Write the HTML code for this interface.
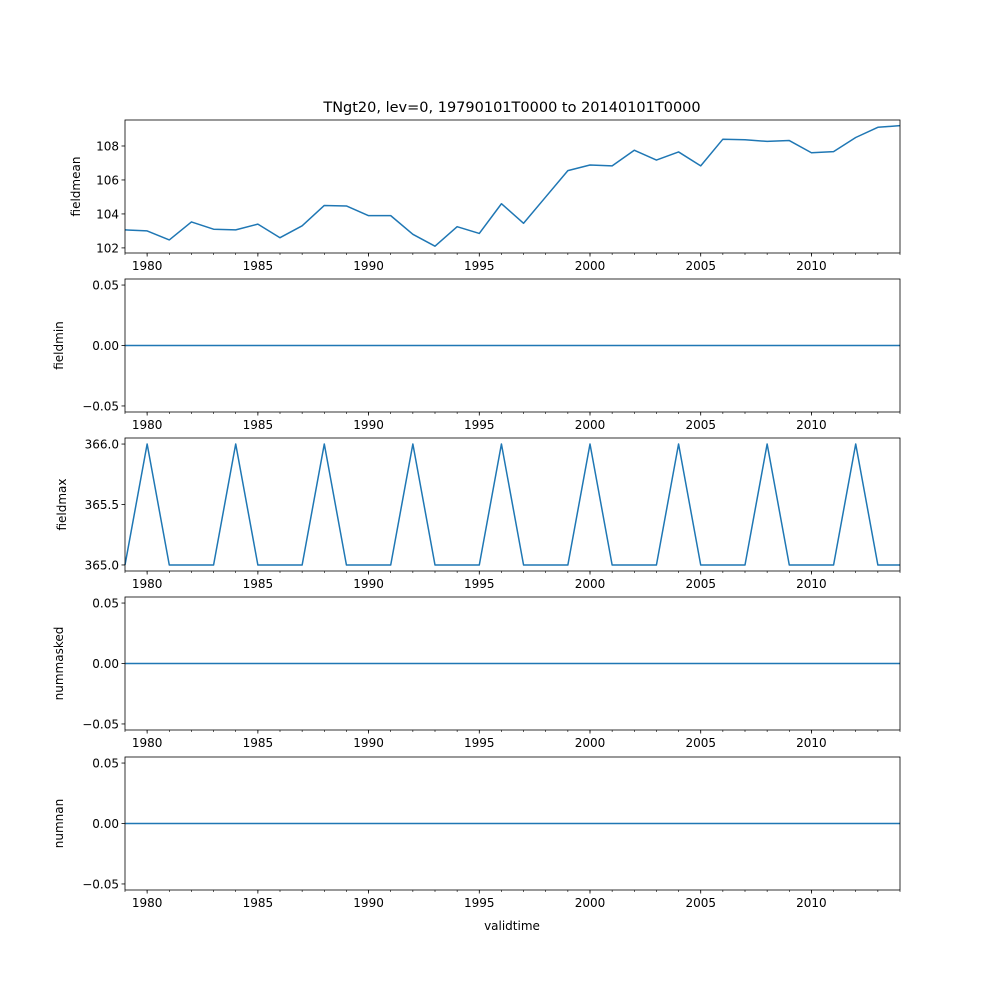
<!DOCTYPE html>
<html><head><meta charset="utf-8"><style>
body{margin:0;background:#fff}
svg{display:block;font-family:"DejaVu Sans","Liberation Sans",sans-serif}
</style></head><body>
<svg id="c" width="1000" height="1000" xmlns="http://www.w3.org/2000/svg">
<text x="512" y="112" font-size="14.5" text-anchor="middle">TNgt20, lev=0, 19790101T0000 to 20140101T0000</text>
<text x="512" y="930" font-size="12" text-anchor="middle">validtime</text>
</svg>
<script>
const years = [];
for (let y = 1979; y <= 2014; y++) years.push(y);
const fieldmean = [103.06,103.0,102.47,103.53,103.1,103.06,103.4,102.6,103.3,104.5,104.47,103.9,103.9,102.8,102.1,103.25,102.85,104.6,103.45,105.0,106.55,106.88,106.83,107.75,107.17,107.65,106.83,108.4,108.37,108.27,108.32,107.6,107.67,108.5,109.1,109.2];
const fieldmin = [0,0,0,0,0,0,0,0,0,0,0,0,0,0,0,0,0,0,0,0,0,0,0,0,0,0,0,0,0,0,0,0,0,0,0,0];
const fieldmax = [365,366,365,365,365,366,365,365,365,366,365,365,365,366,365,365,365,366,365,365,365,366,365,365,365,366,365,365,365,366,365,365,365,366,365,365];
const nummasked = [0,0,0,0,0,0,0,0,0,0,0,0,0,0,0,0,0,0,0,0,0,0,0,0,0,0,0,0,0,0,0,0,0,0,0,0];
const numnan = [0,0,0,0,0,0,0,0,0,0,0,0,0,0,0,0,0,0,0,0,0,0,0,0,0,0,0,0,0,0,0,0,0,0,0,0];
const xTicks = [1980,1985,1990,1995,2000,2005,2010];
const ticksMean = [102,104,106,108];
const ticksZero = [-0.05,0.00,0.05];
const ticksMax = [365.0,365.5,366.0];

const svg = document.getElementById('c');
const NS = 'http://www.w3.org/2000/svg';
const L = 125, R = 900;
const xs = v => L + (v - 1979) / (2014 - 1979) * (R - L);
function mk(tag, attrs, parent) {
  const e = document.createElementNS(NS, tag);
  for (const k in attrs) e.setAttribute(k, attrs[k]);
  (parent || svg).appendChild(e);
  return e;
}
const panels = [
  {name:'fieldmean', data:fieldmean, top:120, lo:101.7, hi:109.53, ticks:ticksMean, fmt:v=>v.toFixed(0), lx:80},
  {name:'fieldmin', data:fieldmin, top:279, lo:-0.055, hi:0.055, ticks:ticksZero, fmt:v=>v.toFixed(2).replace('-','\u2212'), lx:63},
  {name:'fieldmax', data:fieldmax, top:438, lo:364.95, hi:366.05, ticks:ticksMax, fmt:v=>v.toFixed(1), lx:66},
  {name:'nummasked', data:nummasked, top:597, lo:-0.055, hi:0.055, ticks:ticksZero, fmt:v=>v.toFixed(2).replace('-','\u2212'), lx:63},
  {name:'numnan', data:numnan, top:757, lo:-0.055, hi:0.055, ticks:ticksZero, fmt:v=>v.toFixed(2).replace('-','\u2212'), lx:63}
];
const H = 133;
panels.forEach(p => {
  const g = mk('g', {});
  
  
  const B = p.top + H;
  const ys = v => B - (v - p.lo) / (p.hi - p.lo) * H;
  let d = '';
  p.data.forEach((v, i) => { d += (i ? 'L' : 'M') + xs(years[i]).toFixed(2) + ',' + ys(v).toFixed(2); });
  const line = mk('path', {d:d, fill:'none', stroke:'#1f77b4', 'stroke-width':1.5, 'stroke-linejoin':'round'}, g);
  
  
  const frame = mk('rect', {x:L, y:p.top, width:R-L, height:H, fill:'none', stroke:'#000', 'stroke-width':0.8}, g);
  
  
  years.forEach(y => mk('line', {x1:xs(y), x2:xs(y), y1:B, y2:B+2, stroke:'#000', 'stroke-width':0.6}, g));
  xTicks.forEach(t => {
    mk('line', {x1:xs(t), x2:xs(t), y1:B, y2:B+3.5, stroke:'#000', 'stroke-width':0.8}, g);
    const tx = mk('text', {x:xs(t), y:B+17, 'font-size':12, 'text-anchor':'middle'}, g);
    
    
    tx.textContent = t;
  });
  p.ticks.forEach(t => {
    mk('line', {x1:L-3.5, x2:L, y1:ys(t), y2:ys(t), stroke:'#000', 'stroke-width':0.8}, g);
    const tx = mk('text', {x:L-6, y:ys(t)+4.5, 'font-size':12, 'text-anchor':'end'}, g);
    
    
    tx.textContent = p.fmt(t);
  });
  const cy = p.top + H/2;
  const yl = mk('text', {x:p.lx, y:cy, 'font-size':12, 'text-anchor':'middle', transform:'rotate(-90 '+p.lx+' '+cy+')'}, g);
  
  
  yl.textContent = p.name;
});
</script>
</body></html>
